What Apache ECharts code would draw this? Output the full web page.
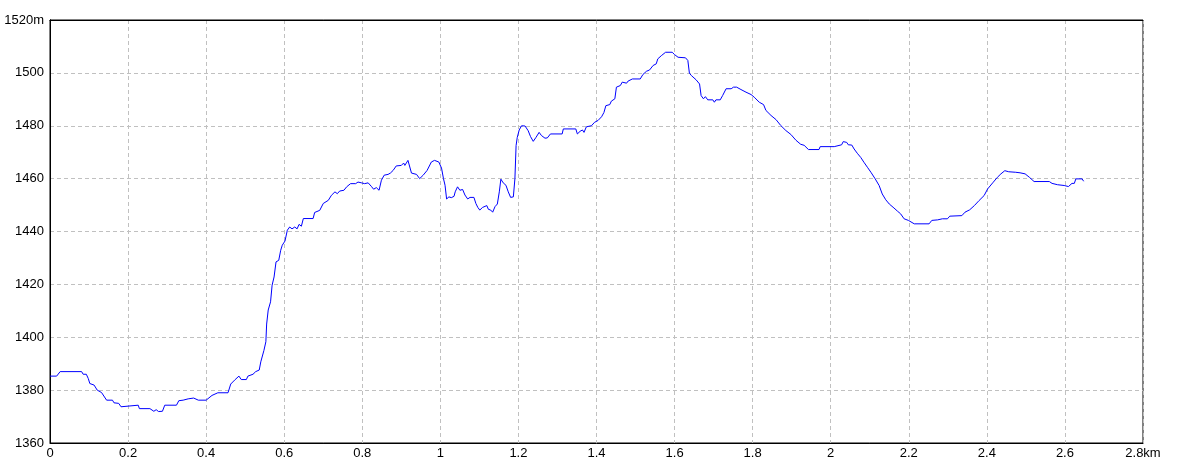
<!DOCTYPE html>
<html>
<head>
<meta charset="utf-8">
<script src="https://cdn.jsdelivr.net/npm/echarts@6/dist/echarts.min.js"></script>
<style>
html,body{margin:0;padding:0;background:#fff;}
#chart{width:1184px;height:473px;}
</style>
</head>
<body>
<div id="chart"></div>
<script>
// distance (km)
var distanceKm = [
0.000,0.017,0.026,0.081,0.085,0.093,0.098,0.102,0.113,0.121,0.132,0.145,0.160,0.164,0.176,0.182,0.186,0.226,0.229,0.256,
0.260,0.266,0.272,0.278,0.282,0.288,0.294,0.324,0.330,0.341,0.354,0.368,0.380,0.400,0.405,0.415,0.430,0.456,0.463,0.473,
0.484,0.490,0.503,0.507,0.520,0.527,0.536,0.540,0.548,0.553,0.555,0.559,0.565,0.569,0.574,0.579,0.586,0.591,0.595,0.602,
0.608,0.614,0.620,0.627,0.633,0.638,0.644,0.649,0.674,0.678,0.691,0.700,0.713,0.721,0.730,0.736,0.742,0.753,0.760,0.770,
0.783,0.789,0.798,0.806,0.815,0.823,0.829,0.836,0.843,0.849,0.856,0.866,0.872,0.879,0.887,0.900,0.906,0.909,0.917,0.926,
0.939,0.947,0.956,0.966,0.977,0.985,0.996,1.003,1.008,1.012,1.016,1.022,1.028,1.035,1.038,1.044,1.050,1.057,1.063,1.070,
1.076,1.086,1.091,1.096,1.101,1.108,1.119,1.123,1.129,1.134,1.140,1.146,1.151,1.155,1.161,1.168,1.174,1.180,1.187,1.191,
1.194,1.197,1.202,1.208,1.217,1.225,1.231,1.238,1.245,1.253,1.259,1.268,1.274,1.282,1.312,1.315,1.347,1.351,1.358,1.364,
1.368,1.374,1.387,1.395,1.404,1.413,1.419,1.424,1.434,1.438,1.447,1.451,1.461,1.466,1.470,1.477,1.481,1.492,1.512,1.519,
1.528,1.536,1.545,1.553,1.557,1.566,1.577,1.594,1.600,1.609,1.628,1.634,1.638,1.643,1.655,1.664,1.668,1.674,1.679,1.685,
1.698,1.702,1.706,1.717,1.723,1.732,1.745,1.751,1.759,1.770,1.783,1.796,1.804,1.817,1.828,1.834,1.847,1.860,1.872,1.885,
1.898,1.911,1.923,1.932,1.943,1.970,1.973,2.009,2.013,2.028,2.032,2.041,2.045,2.054,2.060,2.068,2.077,2.085,2.094,2.103,
2.114,2.124,2.132,2.141,2.150,2.162,2.171,2.179,2.188,2.199,2.214,2.252,2.259,2.274,2.286,2.299,2.305,2.336,2.344,2.356,
2.368,2.380,2.393,2.402,2.415,2.427,2.436,2.446,2.456,2.474,2.485,2.498,2.509,2.521,2.560,2.567,2.581,2.598,2.609,2.618,
2.624,2.628,2.644,2.648
];
// elevation (m)
var elevationM = [
1385.3,1385.3,1387.0,1387.0,1386.0,1386.0,1384.4,1382.5,1381.9,1380.0,1379.1,1376.2,1376.2,1375.2,1375.0,1373.7,1374.3,1374.3,1373.0,1373.0,
1373.3,1372.0,1372.6,1371.9,1372.6,1372.0,1374.3,1374.3,1376.0,1376.2,1376.7,1377.0,1376.2,1376.2,1376.8,1378.0,1379.0,1379.0,1382.3,1383.8,
1385.3,1384.0,1384.0,1385.3,1386.0,1387.0,1387.6,1390.7,1395.0,1398.3,1405.0,1410.3,1413.4,1419.7,1422.8,1428.5,1429.1,1432.9,1434.8,1436.4,
1440.5,1441.7,1441.0,1441.7,1441.0,1442.7,1442.0,1444.9,1444.9,1447.2,1448.0,1450.6,1451.8,1453.7,1455.0,1454.3,1455.3,1455.6,1456.9,1458.1,
1458.1,1458.7,1458.4,1458.1,1458.4,1457.1,1456.0,1456.6,1455.6,1459.4,1461.3,1461.6,1462.1,1463.1,1464.8,1465.0,1465.9,1465.0,1466.9,1462.1,
1461.6,1460.0,1461.3,1463.1,1466.3,1466.9,1466.3,1464.0,1460.0,1457.5,1452.3,1453.1,1452.8,1453.3,1455.0,1456.9,1455.6,1455.9,1453.8,1452.3,
1452.9,1452.9,1450.6,1449.1,1448.1,1449.1,1449.8,1448.4,1448.1,1447.3,1449.4,1450.4,1455.0,1459.8,1458.4,1457.5,1455.0,1452.9,1453.1,1460.0,
1472.5,1475.6,1478.4,1480.0,1479.9,1478.1,1475.9,1474.1,1475.6,1477.5,1476.3,1475.3,1475.4,1476.9,1476.9,1478.8,1478.8,1476.9,1477.9,1478.4,
1477.5,1479.6,1480.0,1481.3,1482.0,1483.4,1485.0,1487.6,1488.0,1489.3,1490.2,1494.6,1495.2,1496.5,1497.1,1496.1,1496.9,1497.7,1497.7,1499.4,
1500.6,1501.1,1502.8,1503.4,1505.3,1506.5,1507.8,1507.8,1506.9,1505.9,1505.7,1504.7,1499.9,1499.0,1497.4,1495.8,1491.4,1490.2,1491.0,1489.8,
1489.8,1488.9,1489.8,1489.8,1491.4,1494.0,1494.0,1494.6,1494.6,1493.7,1492.7,1491.8,1490.8,1488.9,1488.0,1485.8,1483.9,1482.3,1480.1,1478.2,
1476.7,1474.5,1473.0,1472.6,1471.0,1471.0,1472.1,1472.1,1472.7,1472.8,1474.0,1473.7,1472.8,1472.7,1471.2,1469.6,1468.0,1466.2,1464.3,1462.4,
1459.9,1457.4,1454.2,1452.0,1450.4,1448.9,1447.7,1446.7,1444.8,1444.2,1442.9,1442.9,1444.2,1444.4,1444.8,1444.8,1445.8,1446.0,1447.3,1448.2,
1449.8,1451.7,1453.6,1456.1,1458.4,1460.5,1461.8,1463.0,1462.6,1462.4,1462.2,1461.8,1460.5,1458.9,1458.9,1458.2,1457.7,1457.4,1457.0,1458.2,
1458.2,1459.9,1459.9,1459.0
];
// axis ticks
var xTicks = {min: 0, max: 2.8, step: 0.2, unit: 'km'};
var yTicks = {min: 1360, max: 1520, step: 20, unit: 'm'};

var points = distanceKm.map(function (d, i) { return [d, elevationM[i]]; });

var labelFont = {
  color: '#000',
  fontSize: 13,
  fontFamily: '"Liberation Sans Narrow", "Liberation Sans", Arial, sans-serif'
};
var gridLine = { show: true, lineStyle: { color: '#c0c0c0', type: [4, 3], width: 1 } };

var chart = echarts.init(document.getElementById('chart'), null, { renderer: 'canvas' });
chart.setOption({
  animation: false,
  backgroundColor: '#ffffff',
  grid: { left: 50, top: 20, width: 1093, height: 423, show: true, borderColor: '#000', borderWidth: 1, backgroundColor: 'transparent' },
  xAxis: [{
    type: 'value', min: xTicks.min, max: xTicks.max, interval: xTicks.step,
    axisLine: { show: true, lineStyle: { color: '#000', width: 1 } },
    axisTick: { show: false },
    splitLine: gridLine,
    axisLabel: Object.assign({
      margin: 4,
      formatter: function (v) {
        var r = Math.round(v * 10) / 10;
        return (Math.abs(r - xTicks.max) < 1e-9) ? r + xTicks.unit : String(r);
      }
    }, labelFont)
  }, {
    type: 'value', position: 'top', min: xTicks.min, max: xTicks.max,
    axisLine: { show: true, lineStyle: { color: '#000', width: 1 } },
    axisTick: { show: false }, axisLabel: { show: false }, splitLine: { show: false }
  }],
  yAxis: [{
    type: 'value', min: yTicks.min, max: yTicks.max, interval: yTicks.step,
    axisLine: { show: true, lineStyle: { color: '#000', width: 1 } },
    axisTick: { show: false },
    splitLine: gridLine,
    axisLabel: Object.assign({
      margin: 6,
      formatter: function (v) { return v === yTicks.max ? v + yTicks.unit : String(v); }
    }, labelFont)
  }, {
    type: 'value', position: 'right', min: yTicks.min, max: yTicks.max,
    axisLine: { show: true, lineStyle: { color: '#000', width: 1 } },
    axisTick: { show: false }, axisLabel: { show: false }, splitLine: { show: false }
  }],
  series: [{
    type: 'line',
    data: points,
    showSymbol: false,
    symbol: 'none',
    smooth: false,
    lineStyle: { color: '#0000ff', width: 1 },
    z: 5
  }]
});
</script>
</body>
</html>
